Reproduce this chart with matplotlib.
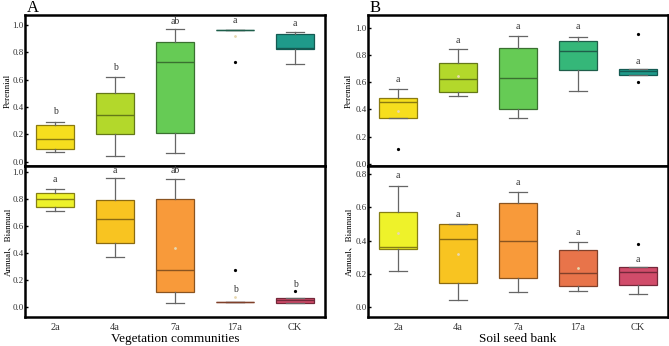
import matplotlib
matplotlib.use("Agg")
import matplotlib.pyplot as plt

plt.rcParams['font.family'] = ['Liberation Serif', 'Noto Sans CJK SC']

groups = ["2a", "4a", "7a", "17a", "CK"]

# Panel A - Vegetation communities, Perennial: (whislo, q1, med, q3, whishi)
A_per = [(0.069, 0.095, 0.168, 0.266, 0.293),
         (0.042, 0.205, 0.339, 0.500, 0.620),
         (0.061, 0.208, 0.729, 0.878, 0.969),
         (0.963, 0.963, 0.963, 0.963, 0.963),
         (0.715, 0.822, 0.834, 0.936, 0.946)]
A_per_mean = [None, None, None, 0.922, None]
A_per_out = [[], [], [], [0.727], []]
A_per_letters = ["b", "b", "ab", "a", "a"]
A_per_letter_y = [0.364, 0.688, 1.022, 1.034, 1.012]

# Panel A - Annual, Biannual
A_ann = [(0.712, 0.740, 0.801, 0.844, 0.873),
         (0.367, 0.472, 0.650, 0.794, 0.955),
         (0.030, 0.112, 0.273, 0.801, 0.948),
         (0.033, 0.033, 0.033, 0.033, 0.033),
         (0.030, 0.030, 0.050, 0.067, 0.067)]
A_ann_mean = [None, None, 0.434, 0.074, None]
A_ann_out = [[], [], [], [0.273], [0.117]]
A_ann_letters = ["a", "a", "ab", "b", "b"]
A_ann_letter_y = [0.943, 1.017, 1.010, 0.129, 0.167]

# Panel B - Soil seed bank, Perennial
B_per = [(0.339, 0.339, 0.455, 0.487, 0.551),
         (0.501, 0.527, 0.623, 0.741, 0.845),
         (0.339, 0.403, 0.630, 0.854, 0.943),
         (0.536, 0.689, 0.832, 0.908, 0.938),
         (0.655, 0.655, 0.684, 0.697, 0.697)]
B_per_mean = [0.390, 0.650, None, None, None]
B_per_out = [[0.105], [], [], [], [0.958, 0.603]]
B_per_letters = ["a", "a", "a", "a", "a"]
B_per_letter_y = [0.618, 0.913, 1.012, 1.012, 0.753]

# Panel B - Annual, Biannual
B_ann = [(0.221, 0.348, 0.360, 0.575, 0.730),
         (0.042, 0.145, 0.411, 0.498, 0.502),
         (0.093, 0.179, 0.399, 0.629, 0.694),
         (0.099, 0.127, 0.205, 0.342, 0.394),
         (0.079, 0.135, 0.210, 0.244, 0.244)]
B_ann_mean = [0.448, 0.320, None, 0.234, None]
B_ann_out = [[], [], [], [], [0.378]]
B_ann_letters = ["a", "a", "a", "a", "a"]
B_ann_letter_y = [0.789, 0.560, 0.749, 0.449, 0.286]

per_colors = ["#F6DE1E", "#B3D82B", "#66CB55", "#2F9E80", "#1F9A8A"]
per_colors_B = ["#F6DE1E", "#B3D82B", "#66CB55", "#35B779", "#1F9A8A"]
ann_colors = ["#EEF22A", "#F8C421", "#F89A3A", "#E8744A", "#D14C6A"]
edge_colors_per = ["#8A7A10", "#647818", "#3A7030", "#1E5E4A", "#145A52"]
edge_colors_ann = ["#857F14", "#8A6A12", "#8A5420", "#80402A", "#74283A"]


def draw(ax, data, means, outs, letters, letter_y, colors, edges, ylim, yticks):
    stats = []
    for (lo, q1, med, q3, hi), out in zip(data, outs):
        stats.append(dict(whislo=lo, q1=q1, med=med, q3=q3, whishi=hi,
                          fliers=out))
    pos = list(range(len(groups)))
    bp = ax.bxp(stats, positions=pos, widths=0.63, patch_artist=True,
                showfliers=True, showcaps=True,
                whiskerprops=dict(color="#666666", linewidth=0.9),
                capprops=dict(color="#666666", linewidth=0.9),
                flierprops=dict(marker='o', markersize=1.3,
                                markerfacecolor='black', markeredgecolor='black'))
    for i, box in enumerate(bp['boxes']):
        box.set_facecolor(colors[i])
        box.set_edgecolor(edges[i])
        box.set_linewidth(0.9)
    for i, m in enumerate(bp['medians']):
        m.set_color(edges[i])
        m.set_linewidth(1.0)
    for i, mv in enumerate(means):
        if mv is not None:
            ax.plot(i, mv, marker='o', markersize=1.0, color="#E8D8B0",
                    linestyle='none')
    for i, (t, y) in enumerate(zip(letters, letter_y)):
        ax.text(i, y, t, ha='center', va='center', fontsize=7, color="#333333")
    ax.set_xlim(-0.5, len(groups) - 0.5)
    ax.set_ylim(*ylim)
    ax.set_yticks(yticks)
    ax.set_yticklabels([f"{v:.1f}" for v in yticks])
    ax.tick_params(axis='y', direction='in', length=2, width=1.0,
                   labelsize=6.5, pad=1, labelcolor="#333333")
    for s in ax.spines.values():
        s.set_linewidth(1.8)
        s.set_color("black")


fig = plt.figure(figsize=(6.69, 3.46), dpi=100)
W, H = 669.0, 346.0


def mk(x0, x1, y0, y1):
    return fig.add_axes([x0 / W, 1 - y1 / H, (x1 - x0) / W, (y1 - y0) / H])


yt = [0.0, 0.2, 0.4, 0.6, 0.8, 1.0]
yt8 = [0.0, 0.2, 0.4, 0.6, 0.8]

axA1 = mk(25, 325, 15, 166)
axA2 = mk(25, 325, 166, 317)
axB1 = mk(368, 668, 15, 166)
axB2 = mk(368, 668, 166, 317)

draw(axA1, A_per, A_per_mean, A_per_out, A_per_letters, A_per_letter_y,
     per_colors, edge_colors_per, (-0.031, 1.073), yt)
draw(axA2, A_ann, A_ann_mean, A_ann_out, A_ann_letters, A_ann_letter_y,
     ann_colors, edge_colors_ann, (-0.077, 1.047), yt)
draw(axB1, B_per, B_per_mean, B_per_out, B_per_letters, B_per_letter_y,
     per_colors_B, edge_colors_per, (-0.018, 1.098), yt)
draw(axB2, B_ann, B_ann_mean, B_ann_out, B_ann_letters, B_ann_letter_y,
     ann_colors, edge_colors_ann, (-0.058, 0.849), yt8)

for ax in (axA1, axB1):
    ax.set_xticks([])
for ax in (axA2, axB2):
    ax.set_xticks(range(len(groups)))
    ax.set_xticklabels(groups)
    ax.tick_params(axis='x', length=0, labelsize=7.5, pad=4,
                   labelcolor="#333333")

for ax, lab in ((axA1, "Perennial"), (axA2, "Annual、Biannual")):
    ax.set_ylabel(lab, fontsize=6.5)
    ax.yaxis.set_label_coords((12 - 25) / 300.0, 0.5)
for ax, lab in ((axB1, "Perennial"), (axB2, "Annual、Biannual")):
    ax.set_ylabel(lab, fontsize=6.5)
    ax.yaxis.set_label_coords((353 - 368) / 300.0, 0.5)

axA2.set_xlabel("Vegetation communities", fontsize=9.5, labelpad=1)
axB2.set_xlabel("Soil seed bank", fontsize=9.5, labelpad=1)

fig.text(27 / W, 1 - 8 / H, "A", fontsize=12, va='center', ha='left')
fig.text(370 / W, 1 - 8 / H, "B", fontsize=12, va='center', ha='left')

fig.savefig("out.png", dpi=100)
